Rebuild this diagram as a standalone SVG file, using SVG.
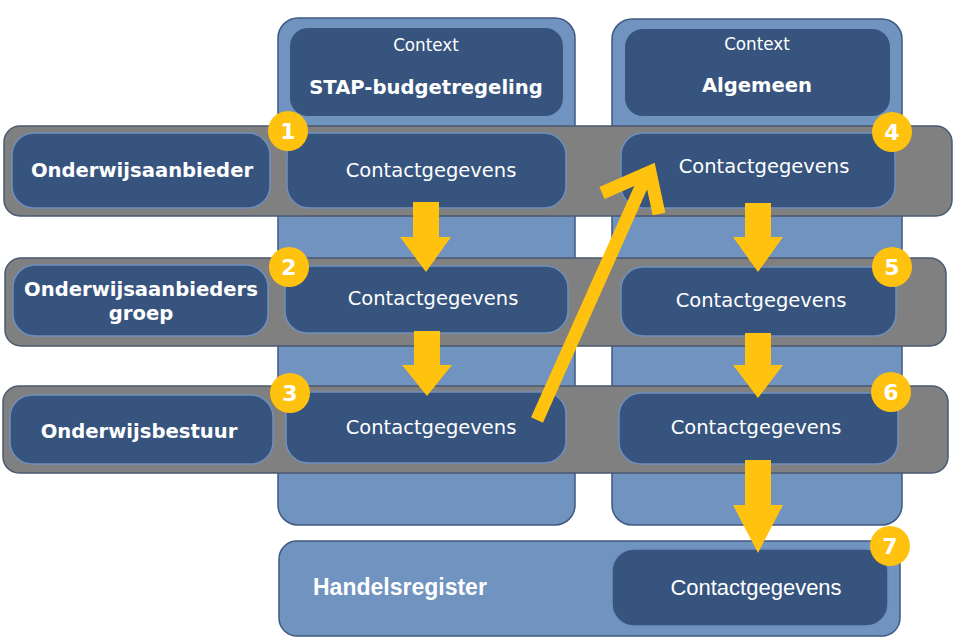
<svg xmlns="http://www.w3.org/2000/svg" width="959" height="642" viewBox="0 0 959 642">
<defs>
<style>
.col{fill:#7093C0;stroke:#3F5A80;stroke-width:1.5}
.row{fill:#808080;stroke:#4A5A72;stroke-width:1.5}
.node{fill:#36547E;stroke:#6F8FBF;stroke-width:1.5}
.ctx{fill:#36547E}
.t{font-family:"DejaVu Sans",Verdana,sans-serif;fill:#FFFFFF;text-anchor:middle}
.b{font-weight:bold;font-size:19.6px}
.n{font-size:19.5px}
.s{font-size:16.8px}
.h{font-family:"Liberation Sans",Arial,sans-serif;font-weight:bold;font-size:23px;fill:#FFFFFF}
.h2{font-family:"Liberation Sans",Arial,sans-serif;font-size:22px;fill:#FFFFFF;text-anchor:middle}
.arr{fill:#FFC20E}
.badge circle{fill:#FFC20E}
.badge text{font-family:"DejaVu Sans",Verdana,sans-serif;font-weight:bold;font-size:22px;fill:#FFFFFF;text-anchor:middle}
</style>
</defs>
<rect width="959" height="642" fill="#FFFFFF"/>

<g id="col-stap">
<rect class="col" x="278" y="18" width="297" height="507" rx="20"/>
<rect class="ctx" x="290" y="28" width="273" height="88" rx="18"/>
<text class="t s" x="426" y="51">Context</text>
<text class="t b" x="426" y="94">STAP-budgetregeling</text>
</g>
<g id="col-algemeen">
<rect class="col" x="612" y="19" width="290" height="506" rx="20"/>
<rect class="ctx" x="625" y="29" width="265" height="87" rx="18"/>
<text class="t s" x="757" y="50">Context</text>
<text class="t b" x="757" y="92">Algemeen</text>
</g>

<g id="handelsregister">
<rect class="col" x="279" y="541" width="621" height="95" rx="18"/>
<text class="h" x="313" y="595">Handelsregister</text>
</g>

<g id="row1">
<rect class="row" x="4" y="126" width="948" height="90" rx="16"/>
</g>
<g id="row2">
<rect class="row" x="5" y="258" width="941" height="88" rx="16"/>
</g>
<g id="row3">
<rect class="row" x="3" y="386" width="945" height="87" rx="16"/>
</g>

<g id="onderwijsaanbieder">
<rect class="node" x="12" y="133" width="258" height="75" rx="22"/>
<text class="t b" x="142" y="177">Onderwijsaanbieder</text>
</g>
<g id="contact1">
<rect class="node" x="287" y="133" width="279" height="75" rx="22"/>
<text class="t n" x="431" y="177">Contactgegevens</text>
</g>
<g id="contact4">
<rect class="node" x="621" y="133" width="274" height="75" rx="22"/>
<text class="t n" x="764" y="173">Contactgegevens</text>
</g>

<g id="onderwijsaanbiedersgroep">
<rect class="node" x="13" y="265" width="255" height="71" rx="22"/>
<text class="t b" x="141" y="296">Onderwijsaanbieders</text>
<text class="t b" x="141" y="320">groep</text>
</g>
<g id="contact2">
<rect class="node" x="285" y="266" width="283" height="67" rx="22"/>
<text class="t n" x="433" y="305">Contactgegevens</text>
</g>
<g id="contact5">
<rect class="node" x="621" y="267" width="275" height="69" rx="22"/>
<text class="t n" x="761" y="307">Contactgegevens</text>
</g>

<g id="onderwijsbestuur">
<rect class="node" x="10" y="395" width="263" height="69" rx="22"/>
<text class="t b" x="139" y="438">Onderwijsbestuur</text>
</g>
<g id="contact3">
<rect class="node" x="286" y="392" width="280" height="71" rx="22"/>
<text class="t n" x="431" y="434">Contactgegevens</text>
</g>
<g id="contact6">
<rect class="node" x="619" y="393" width="279" height="71" rx="22"/>
<text class="t n" x="756" y="434">Contactgegevens</text>
</g>

<g id="contact7">
<rect class="node" x="612" y="549" width="276" height="77" rx="22"/>
<text class="h2" x="756" y="595">Contactgegevens</text>
</g>

<g id="connectors">
<polygon class="arr" points="413,202 439,202 439,237 451,237 426,272 400,237 413,237"/>
<polygon class="arr" points="414,331 440,331 440,365 452,365 427,396 402,365 414,365"/>
<polygon class="arr" points="745,203 771,203 771,237 783,237 758,272 733,237 745,237"/>
<polygon class="arr" points="745,333 771,333 771,365 783,365 758,398 733,365 745,365"/>
<polygon class="arr" points="745,460 771,460 771,505 783,505 758,553 733,505 745,505"/>
<g stroke="#FFC20E" fill="none" stroke-width="13">
<line x1="537" y1="420" x2="645" y2="178"/>
<polyline points="602,193 650,172 659,214" stroke-linejoin="miter" stroke-linecap="butt"/>
</g>
</g>

<g id="badges" class="badge">
<g id="b1"><circle cx="288" cy="131" r="20"/><text x="288" y="139">1</text></g>
<g id="b2"><circle cx="289" cy="267" r="20"/><text x="289" y="275">2</text></g>
<g id="b3"><circle cx="290" cy="393" r="20"/><text x="290" y="401">3</text></g>
<g id="b4"><circle cx="892" cy="132" r="20"/><text x="892" y="140">4</text></g>
<g id="b5"><circle cx="892" cy="267" r="20"/><text x="892" y="275">5</text></g>
<g id="b6"><circle cx="891" cy="392" r="20"/><text x="891" y="400">6</text></g>
<g id="b7"><circle cx="890" cy="546" r="20"/><text x="890" y="554">7</text></g>
</g>
</svg>
